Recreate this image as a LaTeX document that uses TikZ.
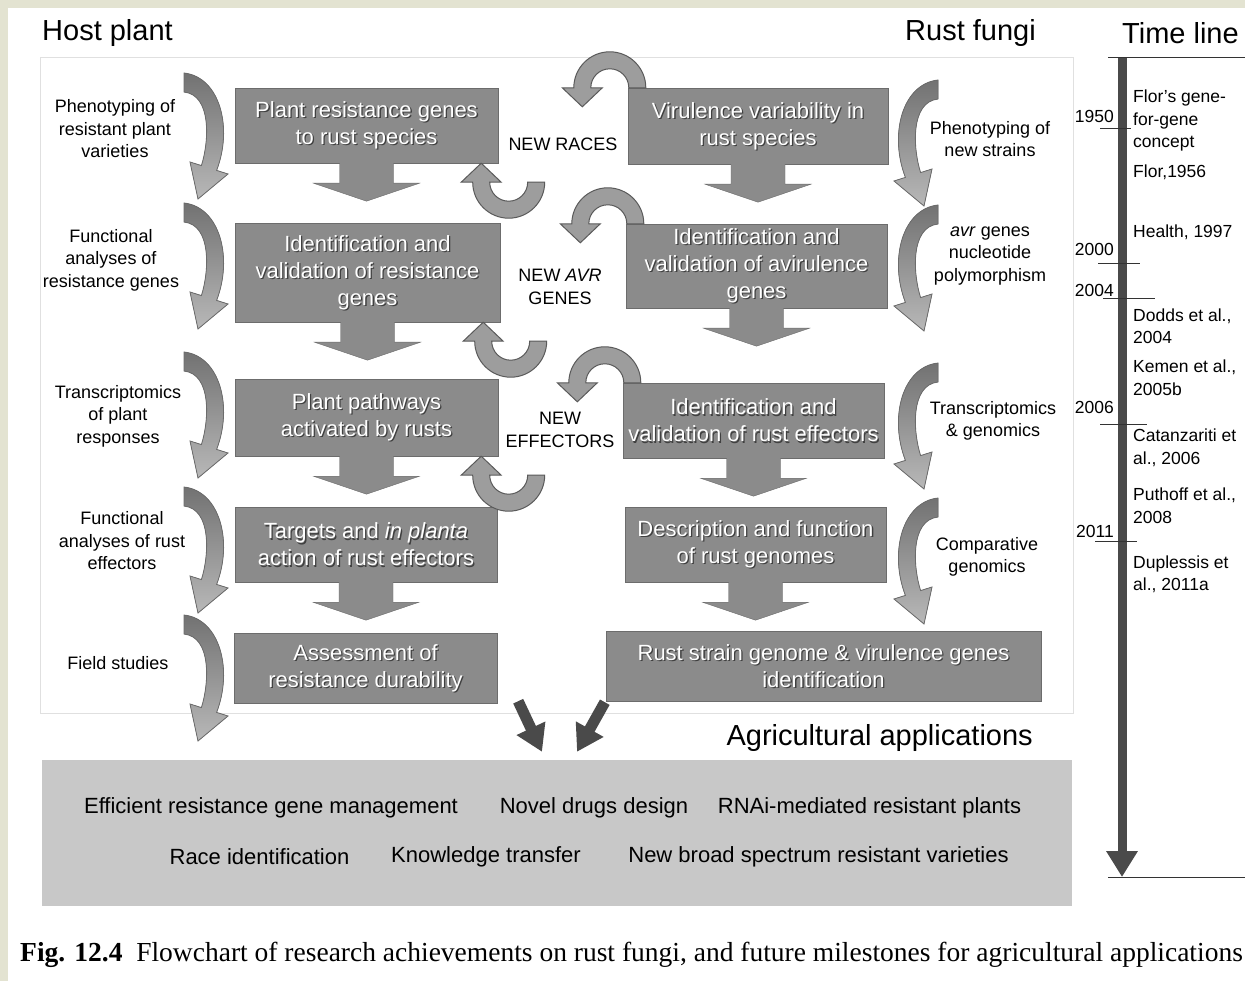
\documentclass[tikz,border=0pt]{standalone}
\usepackage{fontspec}
\setmainfont{Liberation Sans}
\newfontfamily\capfont{Liberation Serif}
\usetikzlibrary{calc,arrows.meta}

\definecolor{pagebeige}{HTML}{E3E3D1}
\definecolor{boxgray}{HTML}{8B8B8B}
\definecolor{boxedge}{HTML}{6C6C6C}
\definecolor{turngray}{HTML}{9D9D9D}
\definecolor{turnedge}{HTML}{5A5A5A}
\definecolor{bendtop}{HTML}{727272}
\definecolor{bendbot}{HTML}{B8B8B8}
\definecolor{appgray}{HTML}{C8C8C8}
\definecolor{bardark}{HTML}{4A4A4A}

\tikzset{
  flowbox/.style={draw=boxedge, fill=boxgray, inner sep=0pt},
  boxfont/.style={font=\fontsize{22}{27}\selectfont, align=center, inner sep=0pt},
  sidelabel/.style={font=\fontsize{18}{22.5}\selectfont, align=center, inner sep=0pt},
  tlnote/.style={font=\fontsize{17.5}{22.5}\selectfont, align=left, inner sep=0pt},
  headline/.style={font=\fontsize{29}{32}\selectfont, inner sep=0pt},
  agribox/.style={fill=appgray, inner sep=0pt},
  agritext/.style={font=\fontsize{22}{26}\selectfont, inner sep=0pt},
  panelline/.style={draw=black!12, line width=0.6pt},
  tick/.style={draw=black!80, line width=0.9pt},
  uturn/.pic={
    \filldraw[fill=turngray, draw=turnedge, line width=1pt]
      (36,0) arc[start angle=0, end angle=-180, radius=36]
      -- (-47.5,0) -- (-27.5,19) -- (-7.5,0) -- (-19,0)
      arc[start angle=-180, end angle=0, radius=19] -- cycle;
  },
  sidearrow/.pic={
    \filldraw[draw=boxedge, line width=0.8pt, top color=bendtop, bottom color=bendbot]
      (0,0) .. controls (36,4) and (49,55) .. (32.6,97.4)
      -- (44,101) -- (14,126) -- (6,89) -- (17.4,92.6)
      .. controls (25,69) and (28,22) .. (0,19) -- cycle;
  }
}

% block arrow under a box
\newcommand\flowdown[1]{%
  \filldraw[fill=boxgray, draw=boxedge]
    ($(#1.south)+(-27,0)$) -- ++(0,20) -- ++(-26,0) -- ($(#1.south)+(0,38)$)
    -- ($(#1.south)+(53,20)$) -- ++(-26,0) -- ($(#1.south)+(27,0)$);}
% white box text with a dark shadow
\newcommand\boxtext[2]{%
  \node[boxfont, text=black!75] (#1-sh) at ($(#1)+(1.3,1.3)$) {#2};
  \node[boxfont, text=white] (#1-txt) at (#1) {#2};}

\begin{document}
\begin{tikzpicture}[x=1pt, y=-1pt]
\useasboundingbox (0,0) rectangle (1245,981);
\fill[pagebeige] (0,0) rectangle (1245,981);
\fill[white] (8,8) rectangle (1245,981);
\draw[panelline] (40,57) rectangle (1073,713);

% headings
\node[headline, anchor=west] (host) at (42,33) {Host plant};
\node[headline, anchor=east] (fungi) at (1036,33) {Rust fungi};
\node[headline, anchor=west] (tline) at (1122,33) {Time line};

% host plant column
\node[flowbox, minimum width=263, minimum height=75] (L1) at (366.5,125.5) {};
\node[flowbox, minimum width=265, minimum height=99] (L2) at (367.5,272.5) {};
\node[flowbox, minimum width=263, minimum height=77] (L3) at (366.5,417.5) {};
\node[flowbox, minimum width=262, minimum height=75] (L4) at (366,544.5) {};
\node[flowbox, minimum width=263, minimum height=70] (L5) at (365.5,668) {};

% rust fungi column
\node[flowbox, minimum width=260, minimum height=76] (R1) at (758,126) {};
\node[flowbox, minimum width=261, minimum height=84] (R2) at (756.5,266) {};
\node[flowbox, minimum width=261, minimum height=75] (R3) at (753.5,420.5) {};
\node[flowbox, minimum width=261, minimum height=75] (R4) at (755.5,544.5) {};
\node[flowbox, minimum width=435, minimum height=70] (R5) at (823.5,666) {};

\foreach \b in {L1,L2,L3,L4,R1,R2,R3,R4} {\flowdown{\b}}

\boxtext{L1}{Plant resistance genes\\to rust species}
\boxtext{L2}{Identification and\\validation of resistance\\genes}
\boxtext{L3}{Plant pathways\\activated by rusts}
\boxtext{L4}{Targets and \textit{in planta}\\action of rust effectors}
\boxtext{L5}{Assessment of\\resistance durability}
\boxtext{R1}{Virulence variability in\\rust species}
\boxtext{R2}{Identification and\\validation of avirulence\\genes}
\boxtext{R3}{Identification and\\validation of rust effectors}
\boxtext{R4}{Description and function\\of rust genomes}
\boxtext{R5}{Rust strain genome \& virulence genes\\identification}

% turns between the columns
\foreach \r/\l in {R1/L1,R2/L2,R3/L3} {
  \pic at ($(\r.north west)+(-18,0)$) {uturn};
  \pic[yscale=-1] at ($(\l.south east)+(10.5,19)$) {uturn};
}
\node[sidelabel] (races) at (563,144) {NEW RACES};
\node[sidelabel] (avr) at (560,287) {NEW \textit{AVR}\\GENES};
\node[sidelabel] (effs) at (560,430) {NEW\\EFFECTORS};

% side arrows
\foreach \y in {73,203,352,487,615} {\pic at (184,\y) {sidearrow};}
\foreach \y in {80,205,363,498} {\pic[xscale=-1] at (938,\y) {sidearrow};}

\node[sidelabel] (hp1) at (115,129) {Phenotyping of\\resistant plant\\varieties};
\node[sidelabel] (hp2) at (111,260) {Functional\\analyses of\\resistance genes};
\node[sidelabel] (hp3) at (118,416) {Transcriptomics\\of plant\\responses};
\node[sidelabel] (hp4) at (122,541) {Functional\\analyses of rust\\effectors};
\node[sidelabel] (hp5) at (118,663) {Field studies};
\node[sidelabel] (rf1) at (990,139) {Phenotyping of\\new strains};
\node[sidelabel] (rf2) at (990,256) {\textit{avr} genes\\nucleotide\\polymorphism};
\node[sidelabel] (rf3) at (993,421) {Transcriptomics\\\& genomics};
\node[sidelabel] (rf4) at (987,557) {Comparative\\genomics};

% time line
\coordinate (tltop) at (1122,58);
\coordinate (tlbot) at (1122,877);
\draw[tick] (1108,57) -- (1245,57);
\draw[tick] (1108,877) -- (1245,877);
\draw[draw=bardark, line width=9pt, -{Triangle[width=30pt,length=26pt]}] (tltop) -- (tlbot);
\foreach \yr/\ty/\tl/\tr/\ly in {1950/128/1100/1131/116, 2000/263/1098/1140/249,
    2004/298/1103/1155/290, 2006/424/1100/1147/407, 2011/541/1095/1137/531} {
  \draw[tick] (\tl,\ty) -- (\tr,\ty);
  \node[tlnote, anchor=east] (yr\yr) at (1114,\ly) {\yr};
}
\node[tlnote, anchor=west] (flor) at (1133,120.5) {Flor's gene-\\for-gene\\concept};
\node[tlnote, anchor=west] (flor56) at (1133,172) {Flor,1956};
\node[tlnote, anchor=west] (heath) at (1133,232) {Health, 1997};
\node[tlnote, anchor=west] (dodds) at (1133,326) {Dodds et al.,\\2004};
\node[tlnote, anchor=west] (kemen) at (1133,377.5) {Kemen et al.,\\2005b};
\node[tlnote, anchor=west] (catan) at (1133,448) {Catanzariti et\\al., 2006};
\node[tlnote, anchor=west] (puth) at (1133,505.5) {Puthoff et al.,\\2008};
\node[tlnote, anchor=west] (dupl) at (1133,574.5) {Duplessis et\\al., 2011a};

% agricultural applications
\node[agribox, minimum width=1030, minimum height=146] (apps) at (557,833) {};
\node[headline, anchor=east] (agtitle) at (1033,738) {Agricultural applications};
\draw[draw=bardark, line width=11pt, -{Triangle[width=30pt,length=26pt]}]
  ($(L5.south east)+(21,-2)$) -- ($(apps.north)+(-15,-8)$);
\draw[draw=bardark, line width=11pt, -{Triangle[width=30pt,length=26pt]}]
  ($(R5.south west)+(-1,1)$) -- ($(apps.north)+(20,-8)$);
\node[agritext] (ap1) at (271,808) {Efficient resistance gene management};
\node[agritext] (ap2) at (594,808) {Novel drugs design};
\node[agritext] (ap3) at (869.5,808) {RNAi-mediated resistant plants};
\node[agritext] (ap4) at (259.5,857) {Race identification};
\node[agritext] (ap5) at (486,857) {Knowledge transfer};
\node[agritext] (ap6) at (818.5,857) {New broad spectrum resistant varieties};

% caption
\node[anchor=west, inner sep=0pt, font=\capfont\fontsize{27.5}{30}\selectfont] (cap) at (20,955)
  {\textbf{Fig. 12.4}\enspace Flowchart of research achievements on rust fungi, and future milestones for agricultural applications};
\end{tikzpicture}
\end{document}
